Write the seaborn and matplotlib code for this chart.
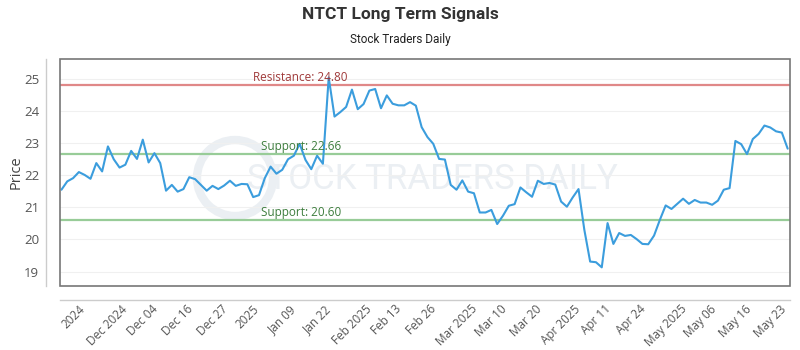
import matplotlib
matplotlib.use("Agg")
import matplotlib.pyplot as plt
import matplotlib.patches as mpatches
import seaborn as sns
import numpy as np
import pandas as pd

# ---- data ----
prices = [21.55, 21.81, 21.91, 22.10, 22.01, 21.89, 22.38, 22.12, 22.90, 22.50,
          22.24, 22.33, 22.76, 22.51, 23.11, 22.40, 22.69, 22.38, 21.52, 21.70,
          21.49, 21.57, 21.94, 21.88, 21.70, 21.52, 21.67, 21.57, 21.68, 21.83,
          21.67, 21.73, 21.72, 21.32, 21.38, 21.91, 22.27, 22.05, 22.17, 22.50,
          22.61, 22.98, 22.48, 22.19, 22.61, 22.36, 25.05, 23.83, 23.97, 24.13,
          24.67, 24.06, 24.22, 24.64, 24.69, 24.09, 24.49, 24.23, 24.18, 24.18,
          24.28, 24.17, 23.50, 23.19, 22.98, 22.51, 22.49, 21.70, 21.55, 21.84,
          21.49, 21.44, 20.84, 20.84, 20.92, 20.48, 20.74, 21.05, 21.10, 21.62,
          21.47, 21.33, 21.83, 21.73, 21.76, 21.71, 21.18, 21.02, 21.31, 21.57,
          20.30, 19.31, 19.29, 19.13, 20.51, 19.86, 20.20, 20.11, 20.14, 20.01,
          19.86, 19.85, 20.12, 20.61, 21.06, 20.95, 21.11, 21.27, 21.11, 21.23,
          21.15, 21.15, 21.08, 21.21, 21.55, 21.60, 23.07, 22.97, 22.66, 23.13,
          23.29, 23.55, 23.49, 23.37, 23.33, 22.83]
tick_labels = ["2024", "Dec 2024", "Dec 04", "Dec 16", "Dec 27", "2025", "Jan 09",
               "Jan 22", "Feb 2025", "Feb 13", "Feb 26", "Mar 2025", "Mar 10",
               "Mar 20", "Apr 2025", "Apr 11", "Apr 24", "May 2025", "May 06",
               "May 16", "May 23"]
resistance = 24.80
supports = [22.66, 20.60]
y_ticks = [19, 20, 21, 22, 23, 24, 25]

df = pd.DataFrame({"idx": np.arange(len(prices)), "price": prices})

sns.set_theme(style="white")
plt.rcParams["font.family"] = ["Open Sans", "DejaVu Sans"]

fig = plt.figure(figsize=(8, 3.5), dpi=100)
ax = fig.add_axes([0.075, 0.183, 0.9125, 0.648])

# watermark
ax.text(0.51, 0.47, "STOCK TRADERS DAILY", transform=ax.transAxes,
        fontsize=25, color="#ebeff3", ha="center", va="center", zorder=0,
        family=["Roboto", "DejaVu Sans"])
circ = mpatches.Circle((235, 172), 38, transform=None, fill=False,
                       edgecolor="#ebeff3", lw=6, zorder=0)
ax.add_artist(circ)

for y in y_ticks:
    ax.axhline(y, color="#f0f0f0", lw=0.8, zorder=0.5)

ax.axhline(resistance, color="#e08888", lw=1.6, zorder=1)
for s in supports:
    ax.axhline(s, color="#98cc98", lw=1.6, zorder=1)

sns.lineplot(data=df, x="idx", y="price", ax=ax, color="#3b9ddd", lw=1.5, zorder=3)

ax.text(33.0, resistance + 0.04, f"Resistance: {resistance:.2f}", color="#a03a3a",
        fontsize=8.5, ha="left", va="bottom", zorder=4)
for s in supports:
    ax.text(34.4, s + 0.04, f"Support: {s:.2f}", color="#3d7d3d",
            fontsize=8.5, ha="left", va="bottom", zorder=4)

ax.set_xlim(-0.25, 125.4)
ax.set_ylim(18.55, 25.62)
ax.set_yticks(y_ticks)
ax.set_yticklabels([str(v) for v in y_ticks])
ax.set_xticks(np.arange(len(tick_labels)) * 6 + 2.0)
ax.set_xticklabels(tick_labels)
ax.tick_params(axis="both", length=0, colors="#555555")
ax.tick_params(axis="x", labelsize=8.5, pad=2, labelrotation=45)
ax.tick_params(axis="y", labelsize=9.5, pad=5)
for lbl in ax.get_xticklabels():
    lbl.set_horizontalalignment("right")
    lbl.set_rotation_mode("default")
ax.set_xlabel("")
ax.set_ylabel("")

for side in ["top", "right"]:
    ax.spines[side].set_visible(False)
for side in ["left", "bottom"]:
    ax.spines[side].set_position(("outward", 10))
    ax.spines[side].set_color("#cccccc")
    ax.spines[side].set_linewidth(1)
box = mpatches.Rectangle((0, 0), 1, 1, transform=ax.transAxes, fill=False,
                         edgecolor="#777777", lw=1.2, clip_on=False, zorder=5)
ax.add_patch(box)

title_family = ["Roboto", "DejaVu Sans"]
fig.text(0.5, 1 - 15 / 350, "NTCT Long Term Signals", ha="center", va="center",
         fontsize=12.5, fontweight="bold", color="#333333", family=title_family)
fig.text(0.5, 1 - 40 / 350, "Stock Traders Daily", ha="center", va="center",
         fontsize=8.5, color="#222222", family=title_family)
fig.text(16 / 800, 1 - 172 / 350, "Price", rotation=90, ha="center", va="center",
         fontsize=10.5, color="#444444")

fig.savefig("out.png", dpi=100)
